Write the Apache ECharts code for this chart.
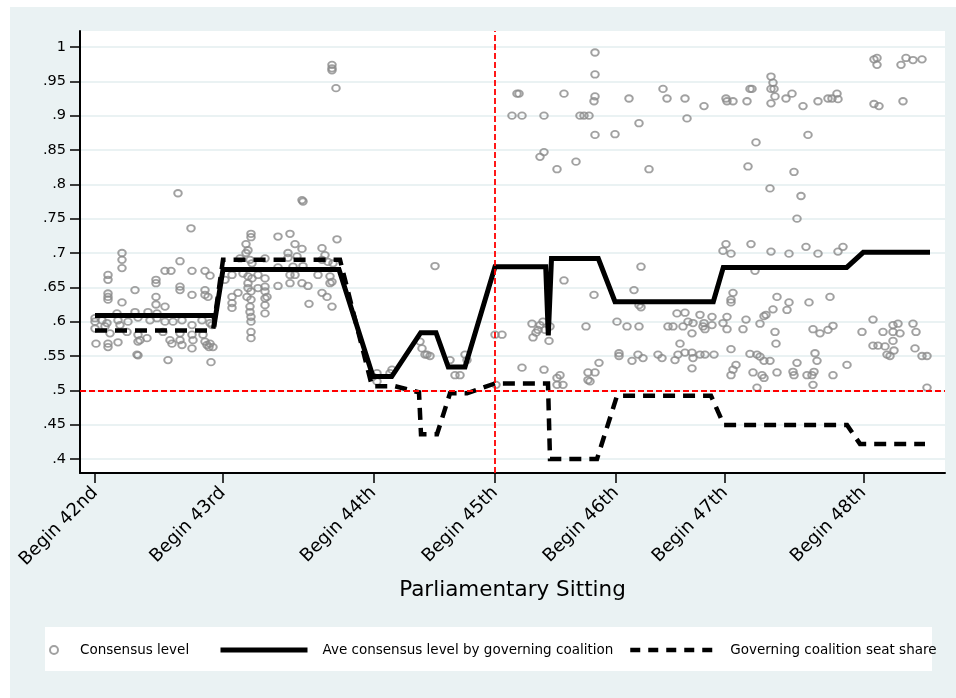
<!DOCTYPE html>
<html>
<head>
<meta charset="utf-8">
<style>html,body{margin:0;padding:0;background:#fff}#c{width:956px;height:698px}</style>
<script src="https://cdn.jsdelivr.net/npm/echarts@6.0.0/dist/echarts.min.js"></script>
</head>
<body>
<div id="c"></div>
<script>
// x positions are a sequence index along the parliamentary timeline
const sittingStarts = [95, 222.7, 373.3, 495, 616, 725, 863.3];
const sittingLabels = ['Begin 42nd', 'Begin 43rd', 'Begin 44th', 'Begin 45th', 'Begin 46th', 'Begin 47th', 'Begin 48th'];
const yTicks = [0.4, 0.45, 0.5, 0.55, 0.6, 0.65, 0.7, 0.75, 0.8, 0.85, 0.9, 0.95, 1];
const majorityLevel = 0.5;
const mmpStartIndex = 3; // Begin 45th

const consensusLevel = [
  // 42nd
  [122,0.700],[122,0.690],[122,0.678],[108,0.668],[108,0.661],[180,0.688],[165,0.674],[171,0.674],[192,0.674],[205,0.674],[210,0.667],[156,0.661],[156,0.656],[135,0.646],[180,0.651],[180,0.646],[108,0.641],[108,0.636],[108,0.632],[192,0.639],[205,0.646],[205,0.639],[208,0.636],[156,0.636],[122,0.628],[156,0.625],[165,0.622],
  [95,0.605],[95,0.600],[102,0.602],[107,0.598],[117,0.612],[118,0.602],[128,0.600],[135,0.614],[138,0.606],[148,0.614],[150,0.602],[157,0.612],[157,0.605],[165,0.600],[173,0.600],[182,0.602],[192,0.595],[202,0.602],[210,0.598],
  [95,0.590],[105,0.593],[110,0.583],[120,0.595],[127,0.585],[138,0.581],[140,0.573],[147,0.576],[163,0.585],[170,0.573],[180,0.583],[180,0.573],[192,0.581],[193,0.573],[203,0.581],[205,0.571],[210,0.568],[212,0.595],
  [96,0.568],[108,0.568],[108,0.563],[118,0.570],[138,0.571],[172,0.568],[182,0.566],[192,0.561],[207,0.566],[209,0.563],[213,0.563],[138,0.551],[137,0.552],[168,0.544],[211,0.541],
  [178,0.787],[191,0.736],
  // 43rd
  [303,0.775],[302,0.777],[251,0.728],[251,0.723],[278,0.724],[290,0.728],[337,0.720],[246,0.713],[248,0.704],[246,0.700],[295,0.713],[302,0.706],[322,0.707],[325,0.697],[288,0.700],[288,0.693],[297,0.695],[265,0.692],[240,0.692],[322,0.690],[328,0.687],[333,0.685],[250,0.690],[252,0.685],[303,0.681],[278,0.679],[293,0.680],
  [232,0.668],[225,0.661],[243,0.670],[248,0.666],[252,0.663],[258,0.668],[265,0.663],[290,0.668],[295,0.668],[318,0.668],[330,0.666],[332,0.658],[330,0.656],[278,0.652],[290,0.656],[302,0.656],[308,0.652],[248,0.656],[248,0.649],[251,0.644],[258,0.649],[265,0.651],[265,0.644],[267,0.636],
  [238,0.642],[232,0.636],[232,0.627],[232,0.620],[247,0.636],[251,0.632],[250,0.622],[250,0.614],[251,0.607],[251,0.600],[265,0.634],[265,0.624],[265,0.612],[322,0.642],[327,0.636],[309,0.626],[332,0.622],[251,0.585],[251,0.576],
  [332,0.974],[332,0.969],[332,0.966],[336,0.940],
  // 44th
  [373,0.520],[377,0.513],[377,0.525],[390,0.525],[392,0.530],[420,0.571],[422,0.561],[427,0.552],[430,0.550],[425,0.552],[435,0.681],[450,0.544],[455,0.522],[460,0.522],[465,0.552],[467,0.544],
  // 45th
  [595,0.992],[595,0.960],[595,0.928],[594,0.921],[519,0.932],[517,0.932],[512,0.900],[522,0.900],[544,0.900],[580,0.900],[584,0.900],[589,0.900],[564,0.932],[595,0.872],[615,0.873],[540,0.840],[544,0.847],[557,0.822],[576,0.833],
  [495,0.581],[502,0.581],[532,0.597],[538,0.588],[540,0.595],[543,0.600],[545,0.588],[550,0.593],[533,0.577],[549,0.572],[536,0.584],[586,0.593],[594,0.639],[564,0.660],[522,0.533],[544,0.530],[560,0.522],[557,0.518],[563,0.508],[557,0.508],[588,0.526],[595,0.526],[588,0.515],[590,0.513],[599,0.540],[496,0.508],
  // 46th
  [629,0.925],[639,0.889],[663,0.939],[667,0.925],[685,0.925],[687,0.896],[704,0.914],[649,0.822],[641,0.680],[634,0.646],[639,0.624],[641,0.621],
  [617,0.600],[627,0.593],[639,0.593],[668,0.593],[673,0.593],[677,0.612],[685,0.613],[683,0.593],[688,0.600],[693,0.598],[692,0.583],[700,0.610],[703,0.593],[712,0.595],
  [619,0.554],[619,0.550],[632,0.543],[638,0.552],[643,0.547],[658,0.552],[662,0.547],[675,0.544],[680,0.568],[678,0.552],[685,0.555],[692,0.555],[693,0.547],[692,0.532],[700,0.552],[705,0.552],
  // 47th
  [726,0.925],[727,0.921],[733,0.921],[747,0.921],[750,0.939],[752,0.939],[771,0.957],[773,0.948],[771,0.939],[774,0.939],[775,0.928],[771,0.918],[786,0.925],[792,0.932],[803,0.914],[818,0.921],[828,0.925],[832,0.925],[837,0.932],[838,0.924],
  [756,0.861],[748,0.826],[808,0.872],[794,0.818],[770,0.794],[801,0.783],[797,0.750],
  [726,0.713],[723,0.703],[731,0.699],[751,0.713],[771,0.702],[789,0.699],[806,0.709],[818,0.699],[838,0.702],[843,0.709],[755,0.674],[733,0.642],[731,0.632],[731,0.628],[777,0.636],[789,0.628],[787,0.617],[809,0.628],[830,0.636],[773,0.618],[766,0.610],[764,0.608],
  [712,0.607],[704,0.598],[705,0.589],[727,0.607],[723,0.598],[727,0.589],[746,0.603],[743,0.589],[760,0.597],[775,0.585],[776,0.568],[813,0.589],[820,0.583],[828,0.588],[833,0.594],
  [714,0.552],[731,0.560],[750,0.553],[757,0.552],[760,0.549],[764,0.543],[770,0.543],[815,0.554],[817,0.543],[797,0.540],[847,0.537],[736,0.537],[733,0.530],[731,0.522],[753,0.526],[762,0.522],[764,0.518],[777,0.526],[793,0.527],[794,0.522],[807,0.522],[812,0.522],[814,0.527],[833,0.522],[757,0.504],[813,0.508],
  // 48th
  [874,0.982],[877,0.984],[877,0.974],[901,0.974],[906,0.984],[913,0.981],[922,0.982],[874,0.917],[879,0.914],[903,0.921],
  [862,0.585],[873,0.603],[883,0.585],[893,0.595],[898,0.597],[893,0.585],[900,0.583],[893,0.572],[894,0.558],[913,0.597],[916,0.585],[873,0.565],[878,0.565],[885,0.564],[887,0.552],[890,0.550],[915,0.561],[922,0.550],[927,0.550],[927,0.504]
];

const aveConsensus = [
  [95,0.609],[213,0.609],[215,0.603],[223,0.676],[339,0.676],[373,0.520],[391.7,0.520],[420.7,0.584],[436,0.584],[448.3,0.534],[465,0.534],
  [495,0.680],[545.7,0.680],[548.3,0.580],[551.5,0.692],[598.3,0.692],[615,0.629],[713.3,0.629],[723.3,0.679],[846.7,0.679],[863.3,0.701],[930,0.701]
];

const seatShare = [
  [95,0.587],[213,0.587],[223,0.690],[340,0.690],[372,0.506],[395,0.506],[419,0.497],[421,0.436],[437,0.436],[450,0.4956],[467,0.4956],
  [495,0.510],[548,0.510],[550,0.400],[597,0.400],[617,0.492],[711,0.492],[724,0.4495],[847,0.4495],[860,0.422],[925,0.422]
];

const FONT = '"DejaVu Sans", Verdana, sans-serif';
const fmtY = v => { const s = parseFloat(v.toFixed(2)).toString(); return s.replace(/^0\./, '.'); };

const chart = echarts.init(document.getElementById('c'), null, {renderer: 'canvas'});
const legendText = {fontFamily: FONT, fontSize: 13.5, color: '#000'};
chart.setOption({
  backgroundColor: '#ffffff',
  animation: false,
  graphic: [
    {type: 'rect', z: -100, silent: true, shape: {x: 10, y: 7, width: 946, height: 691}, style: {fill: '#eaf2f3'}},
    {type: 'rect', z: -99, silent: true, shape: {x: 45, y: 627, width: 887, height: 44}, style: {fill: '#ffffff'}}
  ],
  grid: {left: 80, right: 11, top: 31, bottom: 225, show: true, backgroundColor: '#ffffff', borderWidth: 0, outerBoundsMode: 'none'},
  xAxis: {
    type: 'value', min: 80, max: 945,
    name: 'Parliamentary Sitting', nameLocation: 'middle', nameGap: 106,
    nameTextStyle: {fontFamily: FONT, fontSize: 21.5, color: '#000'},
    axisLine: {show: true, onZero: false, lineStyle: {color: '#000', width: 2}},
    axisTick: {show: true, length: 10, lineStyle: {color: '#000', width: 1.5}, customValues: sittingStarts},
    axisLabel: {customValues: sittingStarts, rotate: 45, margin: 17, fontFamily: FONT, fontSize: 18, color: '#000',
      formatter: v => sittingLabels[sittingStarts.indexOf(v)]},
    splitLine: {show: false}
  },
  yAxis: {
    type: 'value', min: 0.3796, max: 1.0233,
    axisLine: {show: true, onZero: false, lineStyle: {color: '#000', width: 2}},
    axisTick: {show: true, length: 10, lineStyle: {color: '#000', width: 1.5}, customValues: yTicks},
    axisLabel: {customValues: yTicks, margin: 14, fontFamily: FONT, fontSize: 14.5, color: '#000', formatter: fmtY},
    splitLine: {show: true, lineStyle: {color: '#eaf2f3', width: 2}}
  },
  legend: [
    {data: ['Consensus level'], left: 49, top: 643, padding: 0, itemWidth: 16, itemHeight: 8, selectedMode: false,
      textStyle: Object.assign({padding: [0, 0, 0, 13]}, legendText)},
    {data: ['Ave consensus level by governing coalition'], left: 218, top: 643, padding: 0, itemWidth: 87, itemHeight: 14, selectedMode: false,
      itemStyle: {opacity: 0}, lineStyle: {width: 5, type: 'solid'},
      textStyle: Object.assign({padding: [0, 0, 0, 10]}, legendText)},
    {data: ['Governing coalition seat share'], left: 628, top: 643, padding: 0, itemWidth: 84, itemHeight: 14, selectedMode: false,
      itemStyle: {opacity: 0}, lineStyle: {type: [10, 8], width: 4.5},
      textStyle: Object.assign({padding: [0, 0, 0, 11]}, legendText)}
  ],
  series: [
    {
      name: 'Consensus level', type: 'scatter', data: consensusLevel, z: 2,
      symbol: 'circle', symbolSize: [7.5, 6.5],
      itemStyle: {color: 'rgba(0,0,0,0)', borderColor: '#8a8a8a', borderWidth: 1.9},
      emphasis: {disabled: true},
      markLine: {
        silent: true, symbol: 'none', animation: false,
        label: {show: false},
        lineStyle: {color: '#ff0000', type: [6, 3], width: 1.8},
        data: [{xAxis: sittingStarts[mmpStartIndex]}, {yAxis: majorityLevel}]
      }
    },
    {
      name: 'Governing coalition seat share', type: 'line', data: seatShare, z: 3,
      symbol: 'none', itemStyle: {color: '#000'},
      lineStyle: {color: '#000', width: 4.5, type: [12, 8], cap: 'butt', join: 'miter'},
      emphasis: {disabled: true}
    },
    {
      name: 'Ave consensus level by governing coalition', type: 'line', data: aveConsensus, z: 4,
      symbol: 'none', itemStyle: {color: '#000'},
      lineStyle: {color: '#000', width: 5, cap: 'butt', join: 'miter'},
      emphasis: {disabled: true}
    }
  ]
});
</script>
</body>
</html>
